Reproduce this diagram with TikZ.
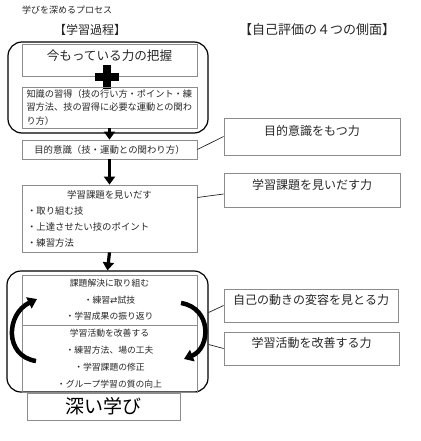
\documentclass[tikz,border=0pt]{standalone}
\usepackage{fontspec}
\setmainfont{Noto Sans CJK JP}
\newfontfamily\arrowfont{DejaVu Sans}
\usetikzlibrary{arrows.meta,positioning}
\definecolor{ink}{HTML}{262626}
\definecolor{edge}{HTML}{8C8C8C}
\tikzset{
  basebox/.style={draw=edge,line width=0.8pt,inner sep=0pt,align=center,text=ink},
  grpbox/.style={draw=black,line width=1.2pt,rounded corners=14pt,inner sep=0pt},
  sidebox/.style={basebox,font=\fontsize{12}{14}\selectfont},
  flow/.style={-{Triangle[length=8pt,width=11pt]},line width=3.2pt},
  turn/.style={-{Triangle[length=9pt,width=12pt]},line width=4.5pt},
  link/.style={draw=ink,line width=0.7pt}
}
\begin{document}
\begin{tikzpicture}[
        x=1pt,y=-1pt,
        head/.style={font=\fontsize{12}{14}\selectfont,text=ink,inner sep=0pt},
        leftbox/.style={basebox,minimum width=175pt},
        body/.style={font=\fontsize{9.2}{13.5}\selectfont}
      ]
        \useasboundingbox (0,0) rectangle (420,441);

        \node[anchor=west,inner sep=0pt,text=ink,font=\fontsize{9}{10}\selectfont] (title) at (22,10) {学びを深めるプロセス};
        \node[head] (hdrL) at (90,30) {【学習過程】};
        \node[head,font=\fontsize{13}{15}\selectfont] (hdrR) at (317,30) {【自己評価の４つの側面】};

        % first group
        \node[grpbox,minimum width=200pt,minimum height=91pt] (grpA) at (108,87.5) {};
        \node[leftbox,font=\fontsize{12.6}{14}\selectfont,text height=17pt,text depth=15pt] (now) at (109.5,60) {今もっている力の把握};
        \fill[black] (95,73) rectangle (119,81);
        \fill[black] (103,65) rectangle (111,89);
        \node[leftbox,body,minimum height=41pt,text width=166pt,align=left] (know) at (109.5,107.5)
          {知識の習得（技の行い方・ポイント・練\\習方法、技の習得に必要な運動との関わ\\り方）};

        \node[leftbox,minimum height=19pt,font=\fontsize{9.4}{11}\selectfont] (aim) at (109.5,149.5) {目的意識（技・運動との関わり方）};
        \node[leftbox,minimum height=67pt,text width=165pt,align=left,font=\fontsize{9.4}{16}\selectfont] (task) at (109.5,218.5)
          {\makebox[\linewidth]{学習課題を見いだす}\\・取り組む技\\・上達させたい技のポイント\\・練習方法};

        \draw[flow] (know.south) -- (aim.north);
        \draw[flow] (aim.south) -- (task.north);

        % second group
        \node[grpbox,minimum width=201pt,minimum height=121pt] (grpB) at (107.5,331.5) {};
        \node[leftbox,minimum height=50pt,font=\fontsize{8.8}{16.5}\selectfont] (solve) at (109.5,300)
          {課題解決に取り組む\\・練習{\arrowfont ⇄}試技\\・学習成果の振り返り};
        \node[leftbox,minimum height=67pt,font=\fontsize{8.8}{17}\selectfont] (fix) at (109.5,358.5)
          {学習活動を改善する\\・練習方法、場の工夫\\・学習課題の修正\\・グループ学習の質の向上};
        \draw[flow] (task.south) -- (grpB.north);

        \coordinate (lpA) at (36,361);
        \coordinate (lpB) at (37,299);
        \coordinate (rpA) at (181,303);
        \coordinate (rpB) at (184,359);
        \draw[turn] (lpA) .. controls (4,356) and (6,314) .. (lpB);
        \draw[turn] (rpA) .. controls (212,308) and (211,348) .. (rpB);

        \node[basebox,minimum width=153pt,minimum height=27pt,text=black,font=\fontsize{19}{21}\selectfont] (deep) at (103.5,406.5) {深い学び};

        % self evaluation
        \node[sidebox,minimum width=176pt,text height=17.5pt,text depth=19.5pt] (rAim) at (312,136.5) {目的意識をもつ力};
        \node[sidebox,minimum width=176pt,text height=16.5pt,text depth=17.5pt] (rTask) at (312,190) {学習課題を見いだす力};
        \node[sidebox,minimum width=174pt,text height=15.5pt,text depth=17.5pt] (rSee) at (311,305.5) {自己の動きの変容を見とる力};
        \node[sidebox,minimum width=175pt,text height=15.5pt,text depth=17.5pt] (rImp) at (311.5,348.5) {学習活動を改善する力};

        \draw[link] (aim.east) -- (rAim.west);
        \draw[link] ([yshift=21pt]task.east) -- ([yshift=-4pt]rTask.west);
        \draw[link] ([yshift=19pt]grpB.east) -- (rSee.west);
        \draw[link] ([yshift=-13pt]grpB.east) -- (rImp.west);
      \end{tikzpicture}
\end{document}
